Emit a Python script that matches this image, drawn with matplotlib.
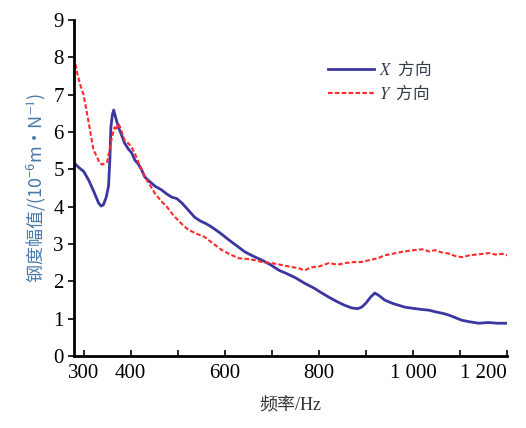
import matplotlib
matplotlib.use('Agg')
import matplotlib.pyplot as plt

plt.rcParams['font.family'] = ['Liberation Serif', 'Noto Sans CJK SC', 'DejaVu Serif']
plt.rcParams['mathtext.fontset'] = 'stix'

# X 方向 (blue)
x_freq = [280, 290, 300, 311, 322, 332, 337, 342, 348, 353, 356, 358, 361, 364, 368, 374,
          380, 387, 395, 402, 409, 416, 423, 430, 440, 452, 466, 476, 487, 498, 509,
          522, 536, 548, 560, 572, 590, 609, 626, 643, 660, 679, 697, 715, 730, 750,
          770, 790, 805, 821, 840, 855, 870, 882, 891, 900, 910, 919, 928, 940, 955,
          970, 983, 1000, 1018, 1034, 1050, 1065, 1076, 1090, 1104, 1120, 1140, 1160,
          1180, 1200]
x_amp = [5.17, 5.05, 4.95, 4.71, 4.40, 4.10, 4.02, 4.05, 4.25, 4.55, 5.30, 6.13, 6.45,
         6.59, 6.40, 6.13, 5.95, 5.71, 5.55, 5.45, 5.25, 5.15, 5.00, 4.80, 4.68, 4.55,
         4.45, 4.35, 4.26, 4.22, 4.10, 3.92, 3.72, 3.62, 3.55, 3.46, 3.30, 3.11, 2.95,
         2.79, 2.68, 2.57, 2.45, 2.30, 2.22, 2.10, 1.95, 1.82, 1.70, 1.58, 1.45, 1.36,
         1.29, 1.27, 1.31, 1.42, 1.58, 1.69, 1.62, 1.50, 1.42, 1.36, 1.31, 1.28, 1.25,
         1.23, 1.18, 1.14, 1.10, 1.03, 0.96, 0.92, 0.88, 0.90, 0.88, 0.88]

# Y 方向 (red)
y_freq = [280, 285, 292, 300, 306, 313, 321, 328, 334, 340, 345, 350, 355, 360, 366,
          370, 374, 380, 387, 395, 402, 410, 417, 424, 430, 440, 451, 465, 477, 487,
          500, 512, 523, 540, 557, 575, 594, 612, 630, 650, 664, 680, 700, 721, 740,
          755, 770, 785, 800, 821, 840, 860, 875, 891, 910, 925, 940, 960, 980, 1004,
          1020, 1035, 1047, 1060, 1075, 1090, 1104, 1120, 1135, 1150, 1162, 1175, 1190,
          1200]
y_amp = [8.00, 7.66, 7.30, 7.00, 6.59, 6.10, 5.52, 5.35, 5.17, 5.13, 5.17, 5.20, 5.52,
         5.85, 6.13, 6.05, 6.24, 6.05, 5.79, 5.70, 5.60, 5.40, 5.17, 4.98, 4.80, 4.60,
         4.37, 4.15, 4.00, 3.83, 3.65, 3.50, 3.38, 3.28, 3.19, 3.02, 2.84, 2.72, 2.62,
         2.60, 2.57, 2.52, 2.49, 2.44, 2.39, 2.36, 2.30, 2.38, 2.40, 2.49, 2.45, 2.50,
         2.52, 2.52, 2.58, 2.62, 2.70, 2.75, 2.80, 2.84, 2.86, 2.80, 2.84, 2.78, 2.75,
         2.68, 2.65, 2.70, 2.72, 2.74, 2.76, 2.72, 2.74, 2.70]

xticks = [300, 400, 500, 600, 700, 800, 900, 1000, 1100, 1200]
xticklabels = ['300', '400', '', '600', '', '800', '', '1 000', '', '1 200']
yticks = list(range(0, 10))

fig = plt.figure(figsize=(5.26, 4.28), dpi=100)
ax = fig.add_axes([0.141, 0.168, 0.823, 0.785])

ax.plot(x_freq, x_amp, color='#3b37a0', lw=2.0, label='$\\mathit{X}\\ $ 方向')
ax.plot(y_freq, y_amp, color='#ff2a2a', lw=1.5, ls=(0, (2.2, 1.1)), label='$\\mathit{Y}\\ $ 方向')

ax.set_xlim(280, 1200)
ax.set_ylim(0, 9)
ax.set_xticks(xticks)
ax.set_xticklabels(xticklabels)
ax.set_yticks(yticks)
ax.tick_params(axis='x', direction='in', length=4, width=1.2, labelsize=15, pad=6)
ax.tick_params(axis='y', direction='out', length=4, width=1.2, labelsize=15)
ax.get_xticklabels()[-1].set_horizontalalignment('right')
for s in ['top', 'right']:
    ax.spines[s].set_visible(False)
for s in ['left', 'bottom']:
    ax.spines[s].set_linewidth(2)

ax.set_xlabel('频率/Hz', fontsize=13, labelpad=10, color='#333333')
ax.set_ylabel('钢度幅值/($\\mathregular{10^{-6}}$m·N$^{-1}$)', fontsize=13,
              color='#4a78a8', family='Noto Sans CJK SC')

leg = ax.legend(loc='upper right', bbox_to_anchor=(0.86, 0.927), frameon=False,
                prop={'family': 'Noto Sans CJK SC', 'size': 12},
                handlelength=2.8, handletextpad=0.3, labelspacing=0.3)
for t in leg.get_texts():
    t.set_color('#333a48')

fig.savefig('out.png', dpi=100)
